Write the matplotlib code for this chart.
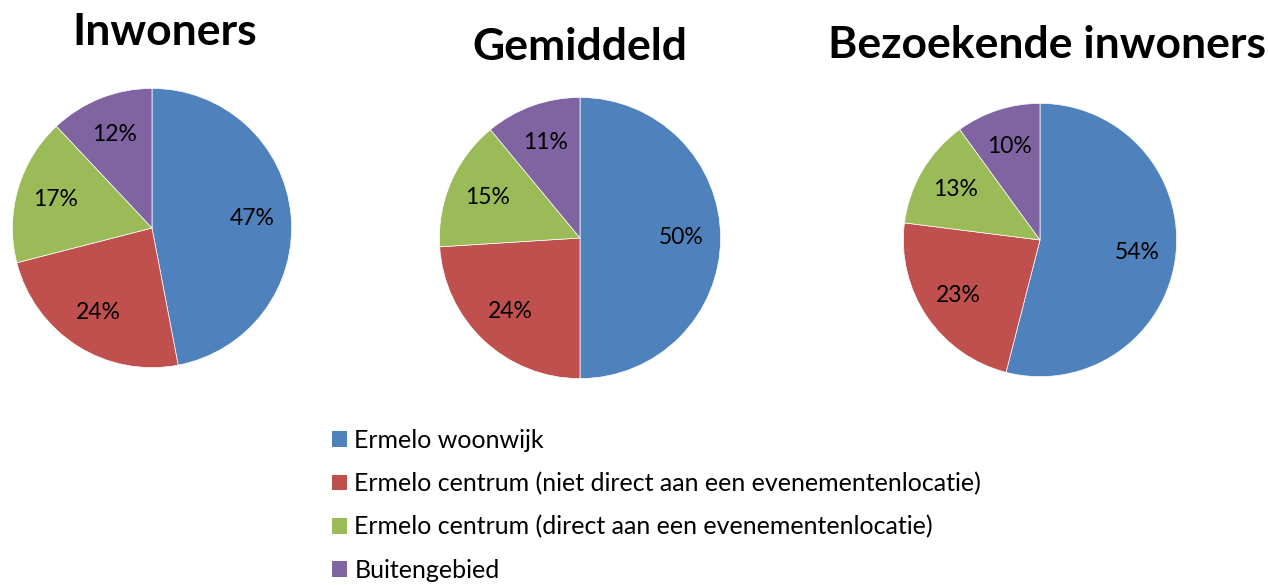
import matplotlib.pyplot as plt
from matplotlib.patches import Patch

titles = ["Inwoners", "Gemiddeld", "Bezoekende inwoners"]
categories = [
    "Ermelo woonwijk",
    "Ermelo centrum (niet direct aan een evenementenlocatie)",
    "Ermelo centrum (direct aan een evenementenlocatie)",
    "Buitengebied",
]
inwoners = [47, 24, 17, 12]
gemiddeld = [50, 24, 15, 11]
bezoekende = [54, 23, 13, 10]
colors = ["#4F81BD", "#C0504D", "#9BBB59", "#8064A2"]

W, H = 1268, 585
fig = plt.figure(figsize=(W / 100, H / 100), dpi=100)
plt.rcParams["font.family"] = ["Lato", "DejaVu Sans"]

# pie centers / radii in pixels, title positions
pies = [
    (inwoners, 152, 228, 141, 165, 32),
    (gemiddeld, 580, 238, 142, 580, 47),
    (bezoekende, 1040, 240, 138, 1047, 45),
]

for (vals, cx, cy, r, tx, ty), title in zip(pies, titles):
    ax = fig.add_axes([(cx - r) / W, (H - cy - r) / H, 2 * r / W, 2 * r / H])
    ax.pie(vals, colors=colors, startangle=90, counterclock=False,
           autopct=lambda p: "%d%%" % round(p), pctdistance=0.72,
           wedgeprops=dict(linewidth=0.5, edgecolor="white"),
           textprops=dict(fontsize=16.5, color="black"))
    ax.set_xlim(-1.01, 1.01)
    ax.set_ylim(-1.01, 1.01)
    ax.set_aspect("auto")
    fig.text(tx / W, 1 - ty / H, title, ha="center", va="center",
             fontsize=32, fontweight="bold")

handles = [Patch(facecolor=c, edgecolor="none") for c in colors]
fig.legend(handles, categories, loc="upper left",
           bbox_to_anchor=(322 / W, 1 - 419 / H), frameon=False,
           fontsize=18, handlelength=0.6, handleheight=0.6,
           handletextpad=0.3, labelspacing=0.8, borderaxespad=0)

fig.savefig("out.png", dpi=100)
